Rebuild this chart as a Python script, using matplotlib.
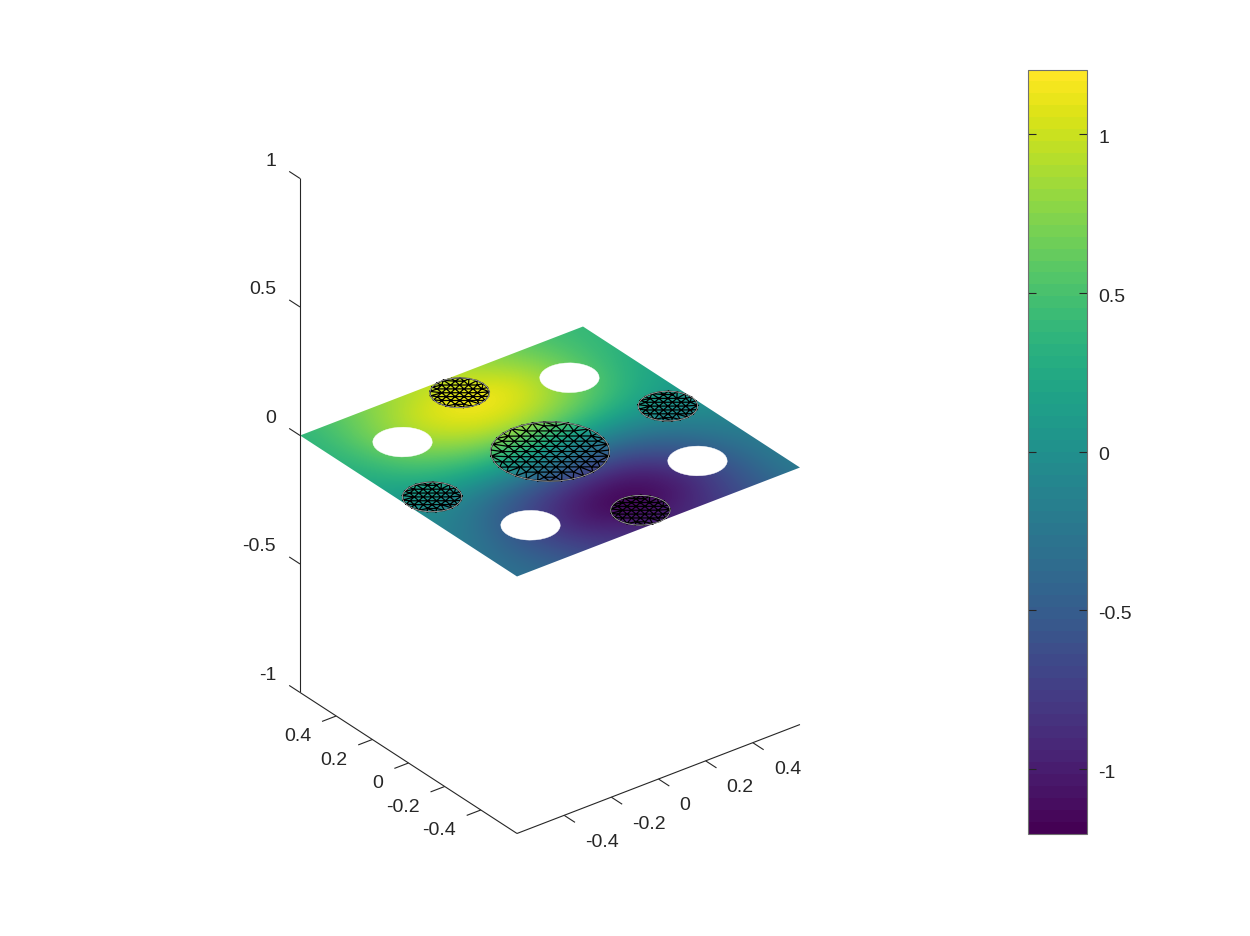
import numpy as np
import matplotlib
matplotlib.use("Agg")
import matplotlib.pyplot as plt
from matplotlib.cm import ScalarMappable
from matplotlib.colors import Normalize
from matplotlib.patches import Circle, Polygon
from matplotlib.transforms import Affine2D, ScaledTranslation
from matplotlib.tri import Triangulation

plt.rcParams['font.family'] = ['Liberation Sans', 'DejaVu Sans']

# ---- data ----
grid_x = [-0.6, -0.45, -0.3, -0.15, 0.0, 0.15, 0.3, 0.45, 0.6]
# rows from y = +0.6 (first) to y = -0.6 (last)
field_rows = [
    [ .35,  .55,  .75,  .90,  .95,  .85,  .70,  .50,  .40],
    [ .35,  .65,  .92, 1.12, 1.22, 1.12,  .85,  .55,  .35],
    [ .30,  .60,  .85, 1.05, 1.12, 1.02,  .78,  .50,  .25],
    [ .20,  .40,  .55,  .70,  .75,  .65,  .50,  .30,  .15],
    [ .02,  .05,  .10,  .10,  .05,  .00,  .00,  .02,  .05],
    [-.10, -.25, -.45, -.55, -.60, -.60, -.45, -.25, -.08],
    [-.20, -.45, -.75,-1.00,-1.12,-1.05, -.75, -.42, -.20],
    [-.28, -.55, -.85,-1.12,-1.22,-1.12, -.85, -.50, -.20],
    [-.30, -.45, -.70, -.85, -.95, -.90, -.70, -.45, -.20],
]
hole_centres = [(0.354, 0.354), (-0.354, 0.354), (0.354, -0.354), (-0.354, -0.354)]
hole_radius = 0.1
mesh_centres = [(0.0, 0.0), (0.0, 0.5), (0.5, 0.0), (-0.5, 0.0), (0.0, -0.5)]
mesh_radii = [0.2, 0.1, 0.1, 0.1, 0.1]
mesh_steps = [0.04, 0.03, 0.03, 0.03, 0.03]
xy_ticks = [-0.4, -0.2, 0.0, 0.2, 0.4]
xy_labels = ['-0.4', '-0.2', '0', '0.2', '0.4']
z_ticks = [-1, -0.5, 0, 0.5, 1]
z_labels = ['-1', '-0.5', '0', '0.5', '1']
value_range = (-1.205, 1.205)
axis_limit = 0.6

INK = '#262626'
W, H = 1250, 937
fig = plt.figure(figsize=(W / 100, H / 100), dpi=100)
ax = fig.add_axes([0, 0, 1, 1])

# orthographic view (az -37.5, el 30), in figure pixels
XX, XY = 235.8, -90.8
YX, YY = -180.8, -117.5
ZY = -257.0
CX, CY = 550.0, 452.5


def project(x, y, z=0.0):
    return CX + XX * x + YX * y, CY + XY * x + YY * y + ZY * z


proj = Affine2D.from_values(XX, XY, YX, YY, CX, CY) + ax.transData

norm = Normalize(*value_range)
half = (grid_x[1] - grid_x[0]) / 2
im = ax.imshow(np.array(field_rows)[::-1], origin='lower', cmap='viridis', norm=norm, aspect='auto',
               extent=(grid_x[0] - half, grid_x[-1] + half, grid_x[0] - half, grid_x[-1] + half),
               interpolation='bicubic', interpolation_stage='data', transform=proj, zorder=1)
L = axis_limit
plane = Polygon([(-L, -L), (L, -L), (L, L), (-L, L)], closed=True, transform=proj,
                fc='none', ec='none')
ax.add_patch(plane)
im.set_clip_path(plane)

for c in hole_centres:
    ax.add_patch(Circle(c, hole_radius, transform=proj, fc='white', ec='white', lw=0.3, zorder=2))

theta = np.deg2rad(-37.5)
for c, r, h in zip(mesh_centres, mesh_radii, mesh_steps):
    n = int(r / h) + 2
    pts = []
    for j in range(-2 * n, 2 * n + 1):
        for i in range(-2 * n, 2 * n + 1):
            px = (i + 0.5 * j) * h
            py = j * h * np.sqrt(3) / 2
            if np.hypot(px, py) < r - 0.6 * h:
                pts.append((px * np.cos(theta) - py * np.sin(theta),
                            px * np.sin(theta) + py * np.cos(theta)))
    nb = int(round(2 * np.pi * r / h))
    ang = np.linspace(0, 2 * np.pi, nb, endpoint=False)
    pts += [(r * np.cos(a), r * np.sin(a)) for a in ang]
    pts = np.array(pts)
    tri = Triangulation(pts[:, 0] + c[0], pts[:, 1] + c[1])
    ax.triplot(tri, color='black', lw=0.9, transform=proj, zorder=3)
    ax.add_patch(Circle(c, r, transform=proj, fc='none', ec='#a8a8a8', lw=0.6, zorder=4))

# 3-D box axes
ax_kw = dict(color=INK, lw=0.8, zorder=5, solid_capstyle='butt')
for a, b in [((-L, L, -1), (-L, -L, -1)), ((-L, -L, -1), (L, -L, -1)), ((-L, L, -1), (-L, L, 1))]:
    p, q = project(*a), project(*b)
    ax.plot([p[0], q[0]], [p[1], q[1]], **ax_kw)

tick_frac = 0.05 * 2 * L
for t, s in zip(xy_ticks, xy_labels):
    p = project(t, -L, -1)
    q = project(t, -L - tick_frac, -1)
    ax.plot([p[0], q[0]], [p[1], q[1]], **ax_kw)
    ax.text(p[0] + 21, p[1] + 26, s, ha='left', va='center', fontsize=14, color=INK)
    p = project(-L, t, -1)
    q = project(-L - tick_frac, t, -1)
    ax.plot([p[0], q[0]], [p[1], q[1]], **ax_kw)
    ax.text(p[0] - 25, p[1] + 20, s, ha='right', va='center', fontsize=14, color=INK)
for t, s in zip(z_ticks, z_labels):
    p = project(-L, L, t)
    q = project(-L, L + tick_frac, t)
    ax.plot([p[0], q[0]], [p[1], q[1]], **ax_kw)
    ax.text(p[0] - 24, p[1] - 18, s, ha='right', va='center', fontsize=14, color=INK)

ax.set_xlim(0, W)
ax.set_ylim(H, 0)
ax.axis('off')

# colour bar with the 64 visible bands
cax = fig.add_axes([1028 / W, 1 - 834.5 / H, 59 / W, 764 / H])
cb = fig.colorbar(ScalarMappable(norm=norm, cmap=plt.get_cmap('viridis', 64)), cax=cax)
cb.set_ticks(z_ticks, labels=z_labels)
cax.tick_params(axis='y', left=True, right=True, direction='in', length=5.5, width=0.8,
                color=INK, labelcolor=INK, labelsize=14, pad=8)
cb.outline.set_edgecolor('#707070')
cb.outline.set_linewidth(0.8)
shift = ScaledTranslation(0, -1.5 / 100, fig.dpi_scale_trans)
for lbl in cax.get_yticklabels():
    lbl.set_transform(lbl.get_transform() + shift)

fig.savefig('out.png', dpi=100)
